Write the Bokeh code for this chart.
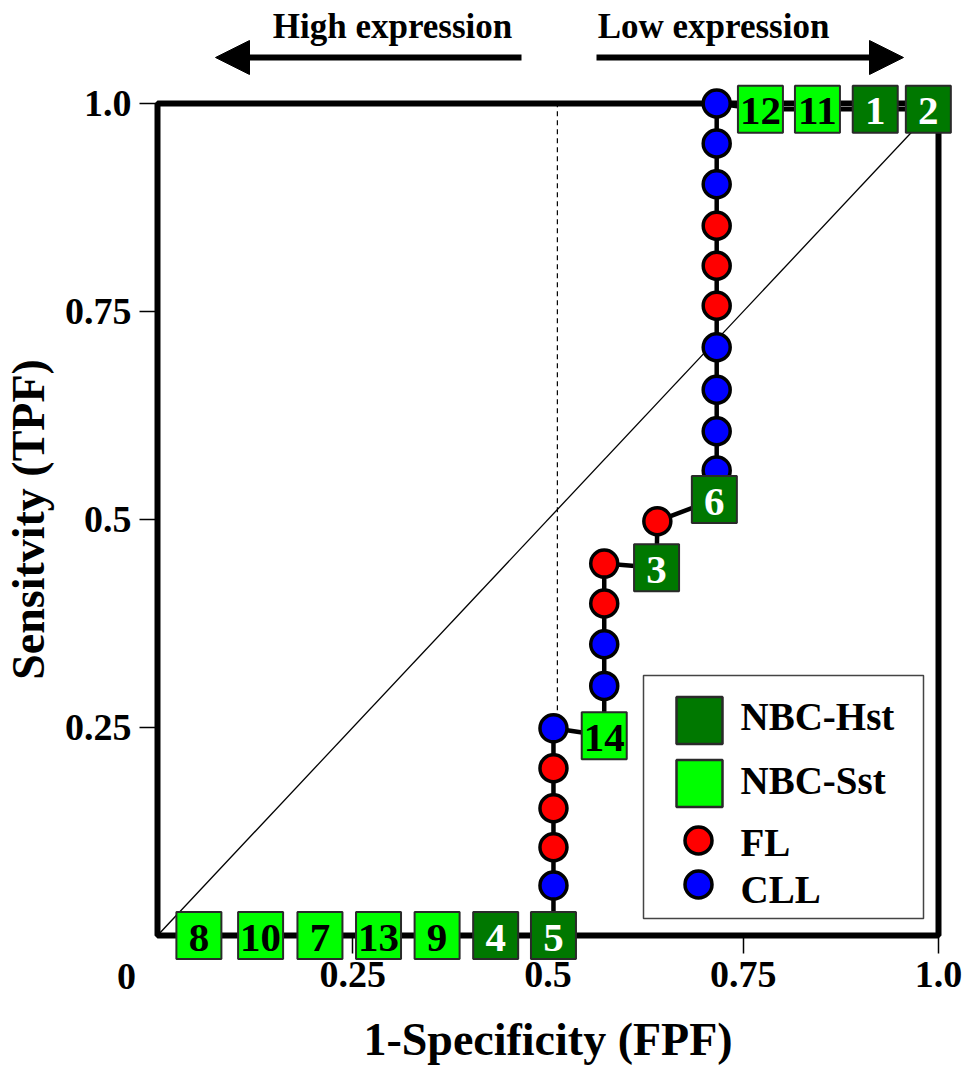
from bokeh.plotting import figure
from bokeh.models import (ColumnDataSource, LinearAxis, FixedTicker, Range1d,
                          Arrow, NormalHead, Label, CustomJSTickFormatter)
from bokeh.core.properties import value
from bokeh.embed import file_html
from bokeh.resources import INLINE

# ---------------- data (ROC operating points, in order along the curve) ----------------
roc_fpf = [0.053, 0.132, 0.208, 0.283, 0.358, 0.433, 0.507,
           0.507, 0.507, 0.507, 0.507, 0.507,
           0.572, 0.572, 0.572, 0.572, 0.572,
           0.639, 0.640, 0.713,
           0.716, 0.716, 0.716, 0.716, 0.716, 0.716, 0.716, 0.716, 0.716, 0.716,
           0.772, 0.845, 0.919, 0.987]
roc_tpf = [0.000, 0.000, 0.000, 0.000, 0.000, 0.000, 0.000,
           0.060, 0.106, 0.153, 0.201, 0.249,
           0.240, 0.300, 0.350, 0.399, 0.447,
           0.442, 0.498, 0.524,
           0.559, 0.606, 0.656, 0.707, 0.757, 0.805, 0.853, 0.903, 0.952, 1.000,
           0.993, 0.993, 0.993, 0.993]
roc_group = ["NBC-Sst", "NBC-Sst", "NBC-Sst", "NBC-Sst", "NBC-Sst", "NBC-Hst", "NBC-Hst",
             "CLL", "FL", "FL", "FL", "CLL",
             "NBC-Sst", "CLL", "CLL", "FL", "FL",
             "NBC-Hst", "FL", "NBC-Hst",
             "CLL", "CLL", "CLL", "CLL", "FL", "FL", "FL", "CLL", "CLL", "CLL",
             "NBC-Sst", "NBC-Sst", "NBC-Hst", "NBC-Hst"]
roc_label = ["8", "10", "7", "13", "9", "4", "5",
             "", "", "", "", "",
             "14", "", "", "", "",
             "3", "", "6",
             "", "", "", "", "", "", "", "", "", "",
             "12", "11", "1", "2"]

chance_fpf = [0.0, 1.0]
chance_tpf = [0.0, 1.0]
cutoff_fpf = [0.512, 0.512]
cutoff_tpf = [0.249, 1.0]

x_ticks = [0.25, 0.5, 0.75, 1.0]
x_tick_labels = ["0.25", "0.5", "0.75", "1.0"]
y_ticks = [0.25, 0.5, 0.75, 1.0]
y_tick_labels = ["0.25", "0.5", "0.75", "1.0"]

legend_names = ["NBC-Hst", "NBC-Sst", "FL", "CLL"]

# ---------------- styles ----------------
FONT = "Liberation Serif"
fill_of = {"NBC-Hst": "#007800", "NBC-Sst": "#00ff00", "FL": "#ff0000", "CLL": "#0000ff"}
text_of = {"NBC-Hst": "white", "NBC-Sst": "black"}

W, H = 972, 1066
X0, X1 = 157, 938   # px of FPF = 0 and 1
Y1, Y0 = 103, 935   # px of TPF = 1 and 0
kx = X1 - X0
ky = Y0 - Y1

p = figure(width=W, height=H,
           x_range=Range1d(-X0 / kx, (W - X0) / kx),
           y_range=Range1d(-(H - Y0) / ky, 1 + Y1 / ky),
           x_axis_location=None, y_axis_location=None,
           min_border=0, output_backend="svg", toolbar_location=None)
p.outline_line_color = None
p.xgrid.visible = False
p.ygrid.visible = False
p.background_fill_color = "white"


def style_axis(ax, tv, tl, label, standoff):
    ax.ticker = FixedTicker(ticks=tv, minor_ticks=[])
    ax.formatter = CustomJSTickFormatter(
        args=dict(tv=tv, tl=tl),
        code="const i = tv.findIndex(t => Math.abs(t - tick) < 1e-9); return i >= 0 ? tl[i] : '';")
    ax.axis_label = label
    ax.axis_line_color = None
    ax.major_tick_in = 0
    ax.major_tick_out = 18
    ax.major_tick_line_width = 1.5
    ax.major_tick_line_color = "black"
    ax.minor_tick_in = 0
    ax.minor_tick_out = 0
    ax.major_label_text_font = FONT
    ax.major_label_text_font_style = "bold"
    ax.major_label_text_font_size = "38px"
    ax.major_label_text_color = "black"
    ax.major_label_standoff = 8
    ax.axis_label_text_font = FONT
    ax.axis_label_text_font_style = "bold"
    ax.axis_label_text_font_size = "46px"
    ax.axis_label_text_color = "black"
    ax.axis_label_standoff = standoff
    ax.level = "underlay"


xaxis = LinearAxis(fixed_location=0, bounds=(0, 1))
style_axis(xaxis, x_ticks, x_tick_labels, "1-Specificity (FPF)", 24)
p.add_layout(xaxis, "below")
yaxis = LinearAxis(fixed_location=0, bounds=(0, 1))
style_axis(yaxis, y_ticks, y_tick_labels, "Sensitvity (TPF)", 8)
p.add_layout(yaxis, "left")

# chance diagonal and cut-off
p.line(chance_fpf, chance_tpf, line_color="black", line_width=1.3)
p.line(cutoff_fpf, cutoff_tpf, line_color="black", line_width=1.2, line_dash="5 4")

# frame box of the ROC space
p.quad(left=[chance_fpf[0]], right=[chance_fpf[1]], bottom=[chance_tpf[0]], top=[chance_tpf[1]],
       fill_color=None, line_color="black", line_width=6)

# ROC path
p.line(roc_fpf, roc_tpf, line_color="black", line_width=4.5)

# patients (circles)
pat_idx = [i for i, g in enumerate(roc_group) if g in ("FL", "CLL")]
pat_src = ColumnDataSource(dict(
    x=[roc_fpf[i] for i in pat_idx], y=[roc_tpf[i] for i in pat_idx],
    c=[fill_of[roc_group[i]] for i in pat_idx]))
p.scatter("x", "y", source=pat_src, size=27, fill_color="c", line_color="black", line_width=3.5)

# normal B cells (labelled boxes)
nbc_idx = [i for i, g in enumerate(roc_group) if g.startswith("NBC")]
nbc_src = ColumnDataSource(dict(
    x=[roc_fpf[i] for i in nbc_idx], y=[roc_tpf[i] for i in nbc_idx],
    lab=[roc_label[i] for i in nbc_idx],
    c=[fill_of[roc_group[i]] for i in nbc_idx],
    tc=[text_of[roc_group[i]] for i in nbc_idx]))
p.rect("x", "y", width=45, height=47, width_units="screen", height_units="screen",
       source=nbc_src, fill_color="c", line_color="#2a2a2a", line_width=2)
p.text("x", "y", text="lab", source=nbc_src, text_color="tc", text_font=value(FONT),
       text_font_style="bold", text_font_size="41px", text_align="center",
       text_baseline="middle", y_offset=2)

# ---------------- legend (drawn inside the plot) ----------------
def px_x(px):
    return (px - X0) / kx


def px_y(py):
    return (Y0 - py) / ky


p.quad(left=[px_x(643)], right=[px_x(923)], bottom=[px_y(918)], top=[px_y(675)],
       fill_color="white", line_color="#444444", line_width=1.5)
leg_y = [px_y(720), px_y(783), px_y(840), px_y(884)]
leg_sq = ColumnDataSource(dict(x=[px_x(699)] * 2, y=leg_y[:2],
                               c=[fill_of[n] for n in legend_names[:2]]))
p.rect("x", "y", width=46, height=47, width_units="screen", height_units="screen",
       source=leg_sq, fill_color="c", line_color="#2a2a2a", line_width=2.5)
leg_ci = ColumnDataSource(dict(x=[px_x(698)] * 2, y=leg_y[2:],
                               c=[fill_of[n] for n in legend_names[2:]]))
p.scatter("x", "y", source=leg_ci, size=27, fill_color="c", line_color="black", line_width=3.5)
leg_tx = ColumnDataSource(dict(x=[px_x(740)] * 4,
                               y=[px_y(716), px_y(780), px_y(842), px_y(889)],
                               t=legend_names))
p.text("x", "y", text="t", source=leg_tx, text_font=value(FONT), text_font_style="bold",
       text_font_size="39px", text_align="left", text_baseline="middle", text_color="black")

# ---------------- direction arrows ----------------
arrow_y = px_y(57)
p.add_layout(Arrow(end=NormalHead(size=34, fill_color="black", line_color="black"),
                   x_start=px_x(521), y_start=arrow_y, x_end=px_x(215), y_end=arrow_y,
                   line_width=6, line_color="black"))
p.add_layout(Arrow(end=NormalHead(size=34, fill_color="black", line_color="black"),
                   x_start=px_x(596), y_start=arrow_y, x_end=px_x(903), y_end=arrow_y,
                   line_width=6, line_color="black"))
for txt, cx in (("High expression", 392), ("Low expression", 713)):
    p.add_layout(Label(x=px_x(cx), y=px_y(26), text=txt, text_align="center",
                       text_baseline="middle", text_font=FONT,
                       text_font_style="bold", text_font_size="35px", text_color="black"))

# origin label
p.add_layout(Label(x=px_x(126), y=px_y(976), text="0", text_align="center",
                   text_baseline="middle", text_font=FONT,
                   text_font_style="bold", text_font_size="38px", text_color="black"))

open("out.html", "w").write(file_html(p, INLINE))
